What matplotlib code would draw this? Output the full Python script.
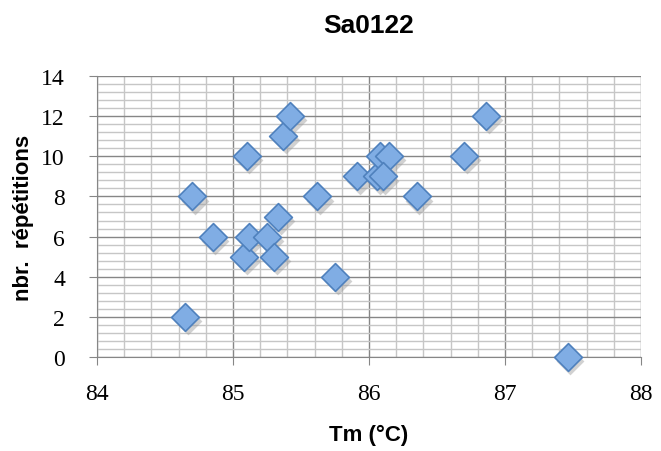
import numpy as np
import matplotlib.pyplot as plt
import matplotlib.transforms as mtransforms
from matplotlib.ticker import MultipleLocator

# ================= DATA ===================
tm = [84.65, 84.70, 84.85, 85.10, 85.08, 85.12, 85.25, 85.30, 85.33, 85.37, 85.42,
      85.62, 85.75, 85.91, 86.06, 86.08, 86.15, 86.10, 86.35, 86.70, 86.86, 87.46]
reps = [2, 8, 6, 10, 5, 6, 6, 5, 7, 11, 12,
        8, 4, 9, 9, 10, 10, 9, 8, 10, 12, 0]

# ================= PLOT ===================
fig = plt.figure(figsize=(6.61, 4.52), dpi=100)
ax = fig.add_axes([0.1467, 0.208, 0.823, 0.6216])

ax.set_xlim(84, 88)
ax.set_ylim(0, 14)
ax.xaxis.set_major_locator(MultipleLocator(1))
ax.xaxis.set_minor_locator(MultipleLocator(0.2))
ax.yaxis.set_major_locator(MultipleLocator(2))
ax.yaxis.set_minor_locator(MultipleLocator(0.4))

ax.grid(which='minor', color='#c6c6c6', linewidth=1.0)
ax.grid(which='major', color='#868686', linewidth=1.0)
ax.set_axisbelow(True)

for side in ['top', 'right']:
    ax.spines[side].set_visible(False)
for side in ['left', 'bottom']:
    ax.spines[side].set_color('#868686')

ax.tick_params(which='major', direction='out', length=6, color='#868686')
ax.tick_params(axis='x', which='major', pad=13)
ax.tick_params(axis='y', which='major', pad=17)
ax.tick_params(which='minor', length=0)
for lab in ax.get_xticklabels() + ax.get_yticklabels():
    lab.set_family('Liberation Serif')
    lab.set_fontsize(17)

# shadow under the markers
shadow = ax.transData + mtransforms.ScaledTranslation(2 / 72, -3 / 72, fig.dpi_scale_trans)
ax.scatter(tm, reps, marker='D', s=200, color='#9a9a9a', alpha=0.45,
           linewidths=0, transform=shadow, zorder=3, clip_on=False)
ax.scatter(tm, reps, marker='D', s=200, facecolor='#80ade4', edgecolor='#4f81bd',
           linewidths=1.2, zorder=4, clip_on=False)

ax.set_title('Sa0122', fontsize=19, fontweight='bold', family='Liberation Sans', pad=32)
ax.set_xlabel('Tm (°C)', fontsize=16, fontweight='bold', family='Liberation Sans', labelpad=14)
ax.set_ylabel('nbr.  répétitions', fontsize=16, fontweight='bold', family='Liberation Sans',
              labelpad=5)

fig.savefig('out.png', dpi=100)
